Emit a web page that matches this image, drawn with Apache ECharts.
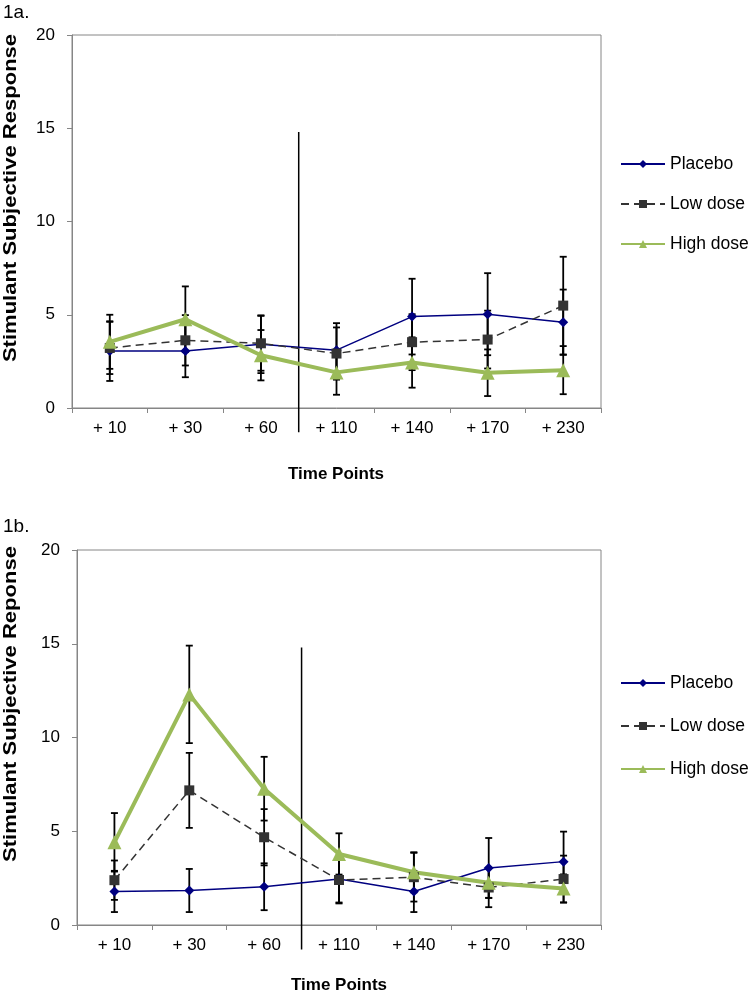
<!DOCTYPE html>
<html>
<head>
<meta charset="utf-8">
<script src="https://cdn.jsdelivr.net/npm/echarts@6/dist/echarts.min.js"></script>
<style>html,body{margin:0;padding:0;background:#fff}#c{width:750px;height:993px}</style>
</head>
<body>
<div id="c"></div>
<script>
// ---- data ----
const categories = ['+ 10', '+ 30', '+ 60', '+ 110', '+ 140', '+ 170', '+ 230'];
const seriesNames = ['Placebo', 'Low dose', 'High dose'];

// Panel 1a
const placeboA    = [3.05, 3.05, 3.42, 3.10, 4.90, 5.03, 4.60];
const placeboErrA = [1.60, 1.40, 1.55, 1.45, 2.03, 2.20, 1.75];
const lowA        = [3.22, 3.63, 3.47, 2.92, 3.53, 3.67, 5.49];
const lowErrA     = [1.40, 1.35, 1.47, 1.40, 1.50, 1.55, 2.62];
const highA       = [3.55, 4.76, 2.83, 1.91, 2.44, 1.89, 2.03];
const highErrA    = [1.45, 1.76, 1.35, 1.20, 1.35, 1.25, 1.29];

// Panel 1b
const placeboB    = [1.79, 1.84, 2.04, 2.45, 1.79, 3.04, 3.38];
const placeboErrB = [1.10, 1.15, 1.25, 1.25, 1.10, 1.60, 1.60];
const lowB        = [2.39, 7.18, 4.68, 2.40, 2.55, 2.00, 2.45];
const lowErrB     = [1.05, 2.00, 1.50, 1.25, 1.30, 1.05, 1.25];
const highB       = [4.41, 12.30, 7.27, 3.79, 2.81, 2.25, 1.95];
const highErrB    = [1.56, 2.60, 1.70, 1.10, 1.07, 0.80, 0.75];

const yTicks = { min: 0, max: 20, interval: 5 };

// ---- styling ----
const FONT = 'Liberation Sans, Arial, sans-serif';
const AXIS_GREY = '#868686';
const COLORS = { 'Placebo': '#000080', 'Low dose': '#333333', 'High dose': '#9BBB59' };

function errBars(vals, errs, gi) {
  return {
    type: 'custom', xAxisIndex: gi, yAxisIndex: gi, z: 1, silent: true,
    data: vals.map((v, i) => [i, v, errs[i]]),
    renderItem: function (params, api) {
      const x = api.value(0), v = api.value(1), e = api.value(2);
      const t = api.coord([x, v + e]), b = api.coord([x, v - e]);
      const h = 3.5;
      const st = { stroke: '#000', lineWidth: 1.8 };
      return { type: 'group', children: [
        { type: 'line', shape: { x1: t[0], y1: t[1], x2: b[0], y2: b[1] }, style: st },
        { type: 'line', shape: { x1: t[0] - h, y1: t[1], x2: t[0] + h, y2: t[1] }, style: st },
        { type: 'line', shape: { x1: b[0] - h, y1: b[1], x2: b[0] + h, y2: b[1] }, style: st }
      ]};
    }
  };
}

function divider(gi) {
  return {
    type: 'custom', xAxisIndex: gi, yAxisIndex: gi, z: 2, silent: true, clip: false,
    data: [[0]],
    renderItem: function (params, api) {
      const a = api.coord([2, 14.8]), b = api.coord([3, 14.8]);
      const c = api.coord([2, -1.3]);
      const x = (a[0] + b[0]) / 2;
      return { type: 'line', shape: { x1: x, y1: a[1], x2: x, y2: c[1] },
               style: { stroke: '#000', lineWidth: 1.5 } };
    }
  };
}

function lineSeries(name, data, gi) {
  const base = { name: name, type: 'line', xAxisIndex: gi, yAxisIndex: gi, data: data, z: 3,
                 color: COLORS[name] };
  if (name === 'Placebo') {
    return Object.assign(base, { symbol: 'diamond', symbolSize: 10,
      lineStyle: { width: 1.5, color: COLORS[name] }, itemStyle: { color: COLORS[name] } });
  } else if (name === 'Low dose') {
    return Object.assign(base, { symbol: 'rect', symbolSize: 10,
      lineStyle: { width: 1.5, type: [8, 5], color: COLORS[name] }, itemStyle: { color: COLORS[name] } });
  }
  return Object.assign(base, { symbol: 'triangle', symbolSize: 14,
    lineStyle: { width: 4, color: COLORS[name] }, itemStyle: { color: COLORS[name] } });
}

function xAx(gi) {
  return {
    type: 'category', gridIndex: gi, data: categories, boundaryGap: true,
    axisLine: { lineStyle: { color: AXIS_GREY, width: 1 } },
    axisTick: { show: true, length: 5, alignWithLabel: false, lineStyle: { color: AXIS_GREY } },
    axisLabel: { color: '#000', fontSize: 17, fontFamily: FONT, margin: 12, interval: 0 },
    splitLine: { show: false }
  };
}
function yAx(gi) {
  return {
    type: 'value', gridIndex: gi, min: yTicks.min, max: yTicks.max, interval: yTicks.interval,
    axisLine: { show: true, lineStyle: { color: AXIS_GREY, width: 1 } },
    axisTick: { show: true, length: 5, lineStyle: { color: AXIS_GREY } },
    axisLabel: { color: '#000', fontSize: 17, fontFamily: FONT, margin: 17 },
    splitLine: { show: false }
  };
}

function legend(top, gap) {
  return {
    orient: 'vertical', left: 620, top: top, itemGap: gap, itemWidth: 44, itemHeight: 10,
    padding: 0, data: seriesNames, selectedMode: false,
    textStyle: { color: '#000', fontSize: 17.5, fontFamily: FONT, padding: [0, 0, 0, 0] }
  };
}

const titleFont = 'bold 17px ' + FONT;
const yTitleFont = 'bold 19px ' + FONT;

const option = {
  backgroundColor: '#fff',
  animation: false,
  grid: [
    { left: 72, top: 35, width: 529, height: 373, show: true, borderColor: AXIS_GREY, borderWidth: 1 },
    { left: 77, top: 550, width: 524, height: 375, show: true, borderColor: AXIS_GREY, borderWidth: 1 }
  ],
  xAxis: [xAx(0), xAx(1)],
  yAxis: [yAx(0), yAx(1)],
  legend: [legend(155, 22), legend(674, 25)],
  graphic: [
    { type: 'text', left: 3, top: 3, style: { text: '1a.', font: '19px ' + FONT, fill: '#000' } },
    { type: 'text', left: 3, top: 517, style: { text: '1b.', font: '19px ' + FONT, fill: '#000' } },
    { type: 'text', x: 11, y: 198, rotation: Math.PI / 2, scaleX: 1.16,
      style: { text: 'Stimulant Subjective Response', font: yTitleFont, fill: '#000', align: 'center', verticalAlign: 'middle' } },
    { type: 'text', x: 11, y: 704, rotation: Math.PI / 2, scaleX: 1.16,
      style: { text: 'Stimulant Subjective Reponse', font: yTitleFont, fill: '#000', align: 'center', verticalAlign: 'middle' } },
    { type: 'text', x: 336, y: 474,
      style: { text: 'Time Points', font: titleFont, fill: '#000', align: 'center', verticalAlign: 'middle' } },
    { type: 'text', x: 339, y: 985,
      style: { text: 'Time Points', font: titleFont, fill: '#000', align: 'center', verticalAlign: 'middle' } }
  ],
  series: [
    errBars(placeboA, placeboErrA, 0), errBars(lowA, lowErrA, 0), errBars(highA, highErrA, 0),
    divider(0),
    lineSeries('Placebo', placeboA, 0), lineSeries('Low dose', lowA, 0), lineSeries('High dose', highA, 0),
    errBars(placeboB, placeboErrB, 1), errBars(lowB, lowErrB, 1), errBars(highB, highErrB, 1),
    divider(1),
    lineSeries('Placebo', placeboB, 1), lineSeries('Low dose', lowB, 1), lineSeries('High dose', highB, 1)
  ]
};

const chart = echarts.init(document.getElementById('c'), null, { renderer: 'canvas' });
chart.setOption(option);
</script>
</body>
</html>
